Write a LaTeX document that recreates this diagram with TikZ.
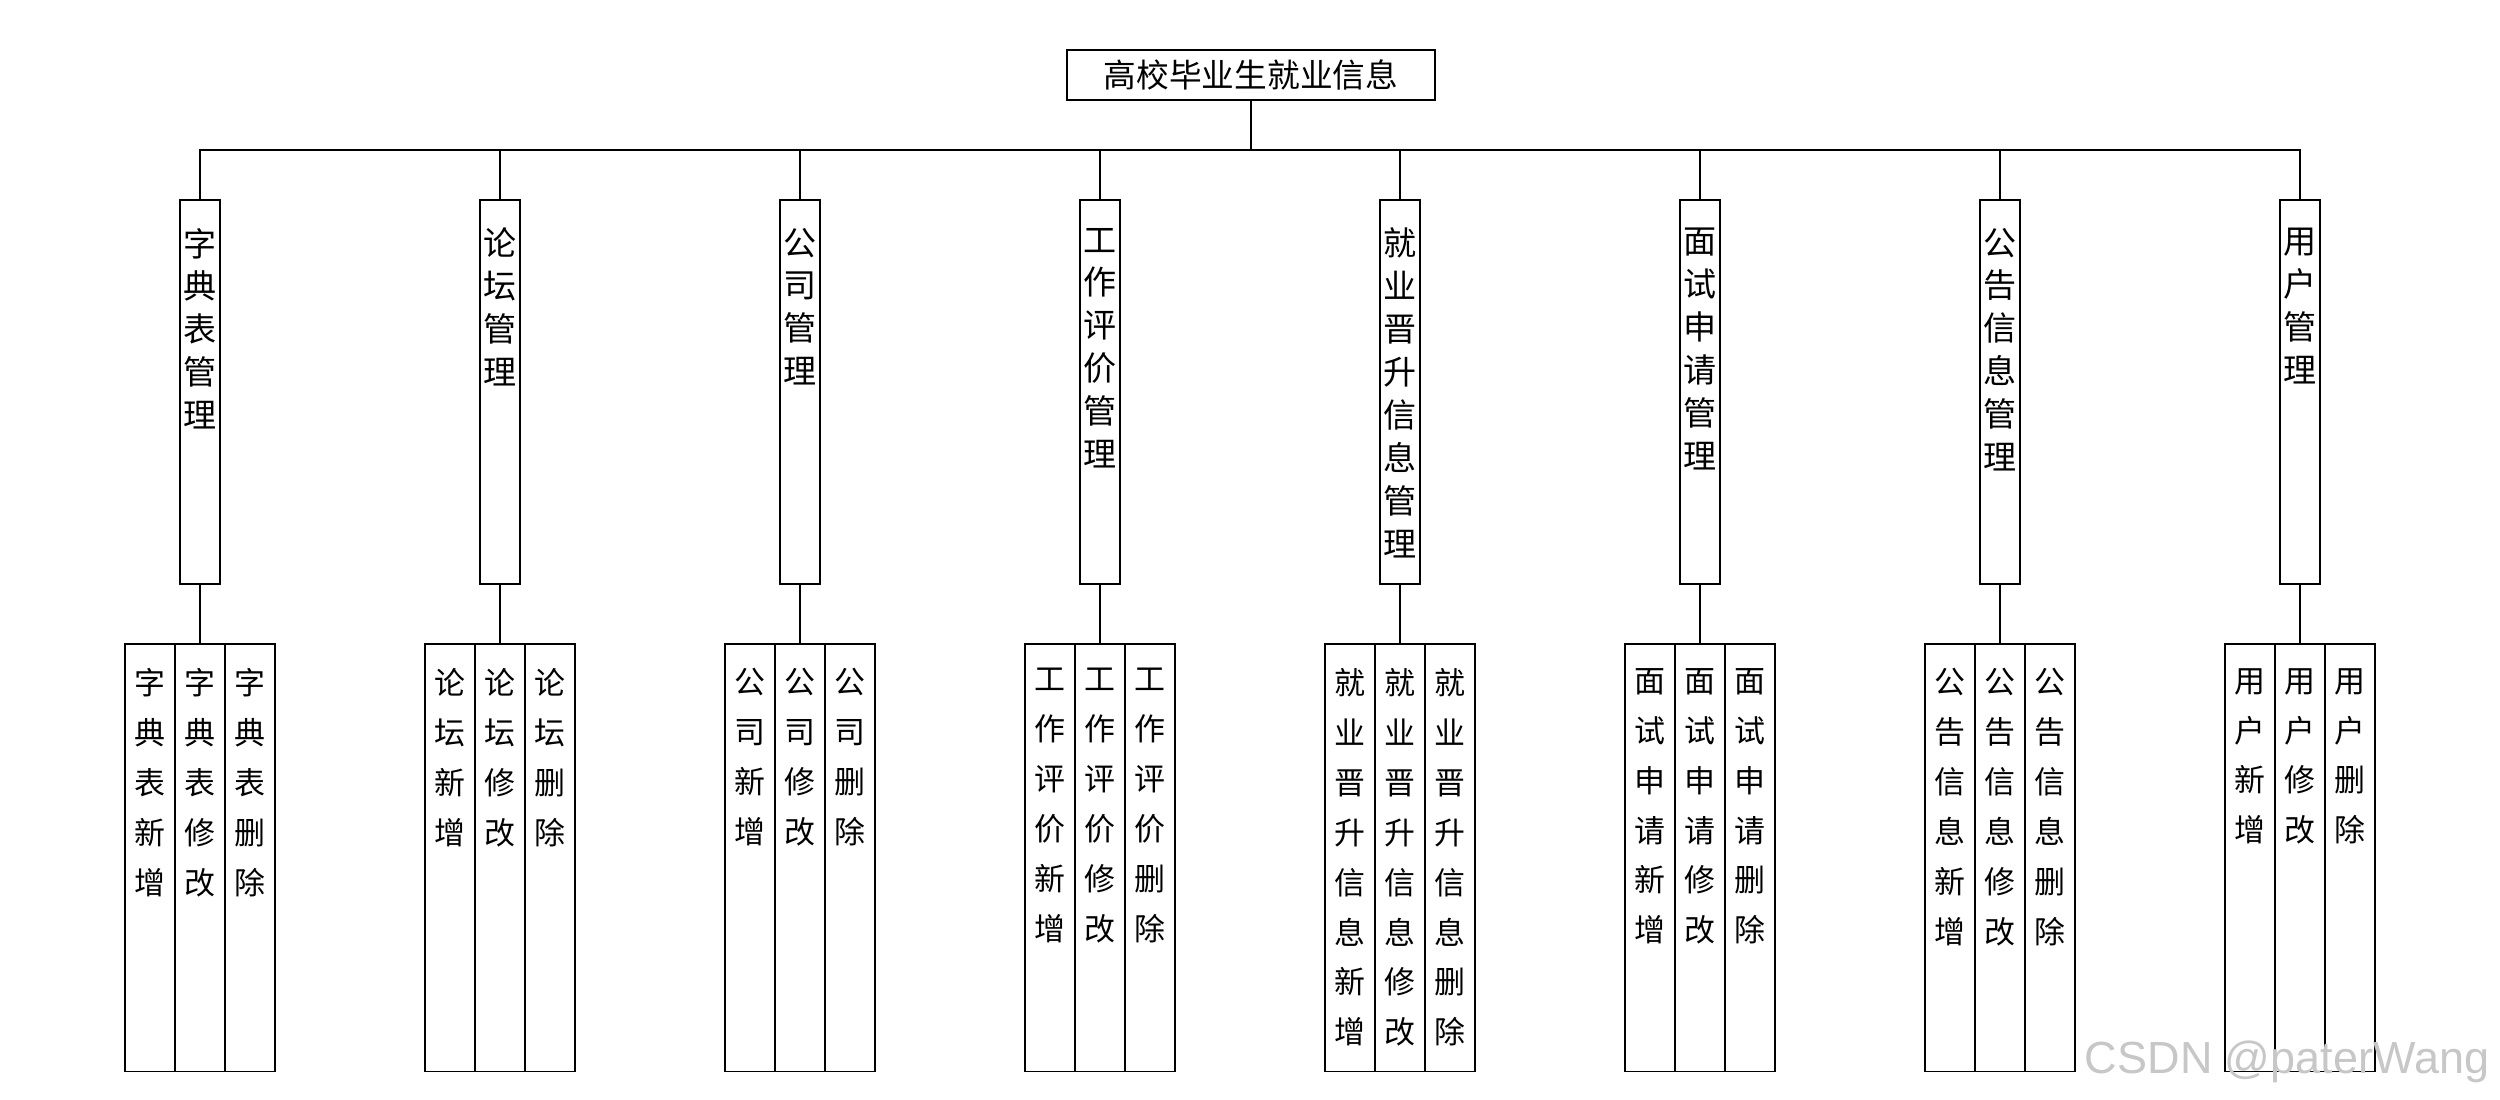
\documentclass[tikz,border=0pt]{standalone}
\usepackage{fontspec}
\usepackage{tikz}
\usetikzlibrary{positioning}
\newfontfamily\cjk{Noto Sans CJK SC}
\newfontfamily\wmfont{Liberation Sans}
\newcommand{\mtext}[1]{\parbox[t][3.84cm][t]{0.4cm}{\centering\vspace*{0.28cm}#1}}
\newcommand{\ltext}[1]{\parbox[t][4.27cm][t]{0.5cm}{\centering\vspace*{0.24cm}#1}}

\begin{document}
\begin{tikzpicture}[x=0.01cm,y=-0.01cm,line width=0.45pt,
    topbox/.style={draw, rectangle, inner sep=0pt, outer sep=0pt, minimum width=3.68cm, minimum height=0.5cm, font=\cjk\fontsize{9.3pt}{12pt}\selectfont},
    mgr/.style={draw, rectangle, inner sep=0pt, outer sep=0pt, anchor=north, font=\cjk\fontsize{9.4pt}{12.2pt}\selectfont},
    leaf/.style={draw, rectangle, inner sep=0pt, outer sep=0pt, font=\cjk\fontsize{8.8pt}{14.2pt}\selectfont}]
    \useasboundingbox (0,0) rectangle (2500,1100);

    \node (root) [topbox] at (1251,75) {高校毕业生就业信息};
    \coordinate (bus) at (1251,150);

    \node (m1) [mgr] at (200,200) {\mtext{字\\典\\表\\管\\理}};
    \node (m2) [mgr] at (500,200) {\mtext{论\\坛\\管\\理}};
    \node (m3) [mgr] at (800,200) {\mtext{公\\司\\管\\理}};
    \node (m4) [mgr] at (1100,200) {\mtext{工\\作\\评\\价\\管\\理}};
    \node (m5) [mgr] at (1400,200) {\mtext{就\\业\\晋\\升\\信\\息\\管\\理}};
    \node (m6) [mgr] at (1700,200) {\mtext{面\\试\\申\\请\\管\\理}};
    \node (m7) [mgr] at (2000,200) {\mtext{公\\告\\信\\息\\管\\理}};
    \node (m8) [mgr] at (2300,200) {\mtext{用\\户\\管\\理}};

    \node (edit1) [leaf, below=0.6cm of m1] {\ltext{字\\典\\表\\修\\改}};
    \node (add1) [leaf, left=0pt of edit1] {\ltext{字\\典\\表\\新\\增}};
    \node (del1) [leaf, right=0pt of edit1] {\ltext{字\\典\\表\\删\\除}};

    \node (edit2) [leaf, below=0.6cm of m2] {\ltext{论\\坛\\修\\改}};
    \node (add2) [leaf, left=0pt of edit2] {\ltext{论\\坛\\新\\增}};
    \node (del2) [leaf, right=0pt of edit2] {\ltext{论\\坛\\删\\除}};

    \node (edit3) [leaf, below=0.6cm of m3] {\ltext{公\\司\\修\\改}};
    \node (add3) [leaf, left=0pt of edit3] {\ltext{公\\司\\新\\增}};
    \node (del3) [leaf, right=0pt of edit3] {\ltext{公\\司\\删\\除}};

    \node (edit4) [leaf, below=0.6cm of m4] {\ltext{工\\作\\评\\价\\修\\改}};
    \node (add4) [leaf, left=0pt of edit4] {\ltext{工\\作\\评\\价\\新\\增}};
    \node (del4) [leaf, right=0pt of edit4] {\ltext{工\\作\\评\\价\\删\\除}};

    \node (edit5) [leaf, below=0.6cm of m5] {\ltext{就\\业\\晋\\升\\信\\息\\修\\改}};
    \node (add5) [leaf, left=0pt of edit5] {\ltext{就\\业\\晋\\升\\信\\息\\新\\增}};
    \node (del5) [leaf, right=0pt of edit5] {\ltext{就\\业\\晋\\升\\信\\息\\删\\除}};

    \node (edit6) [leaf, below=0.6cm of m6] {\ltext{面\\试\\申\\请\\修\\改}};
    \node (add6) [leaf, left=0pt of edit6] {\ltext{面\\试\\申\\请\\新\\增}};
    \node (del6) [leaf, right=0pt of edit6] {\ltext{面\\试\\申\\请\\删\\除}};

    \node (edit7) [leaf, below=0.6cm of m7] {\ltext{公\\告\\信\\息\\修\\改}};
    \node (add7) [leaf, left=0pt of edit7] {\ltext{公\\告\\信\\息\\新\\增}};
    \node (del7) [leaf, right=0pt of edit7] {\ltext{公\\告\\信\\息\\删\\除}};

    \node (edit8) [leaf, below=0.6cm of m8] {\ltext{用\\户\\修\\改}};
    \node (add8) [leaf, left=0pt of edit8] {\ltext{用\\户\\新\\增}};
    \node (del8) [leaf, right=0pt of edit8] {\ltext{用\\户\\删\\除}};

    \draw (root) -- (bus);
    \draw (m1.north) |- (bus);
    \draw (m2.north) |- (bus);
    \draw (m3.north) |- (bus);
    \draw (m4.north) |- (bus);
    \draw (m5.north) |- (bus);
    \draw (m6.north) |- (bus);
    \draw (m7.north) |- (bus);
    \draw (m8.north) |- (bus);

    \draw (m1) -- (edit1);
    \draw (m2) -- (edit2);
    \draw (m3) -- (edit3);
    \draw (m4) -- (edit4);
    \draw (m5) -- (edit5);
    \draw (m6) -- (edit6);
    \draw (m7) -- (edit7);
    \draw (m8) -- (edit8);

    \node (wm) [anchor=base east, inner sep=0pt, text=black!22, font=\wmfont\fontsize{12.8pt}{14pt}\selectfont] at (2490,1073) {CSDN @paterWang};
\end{tikzpicture}
\end{document}
